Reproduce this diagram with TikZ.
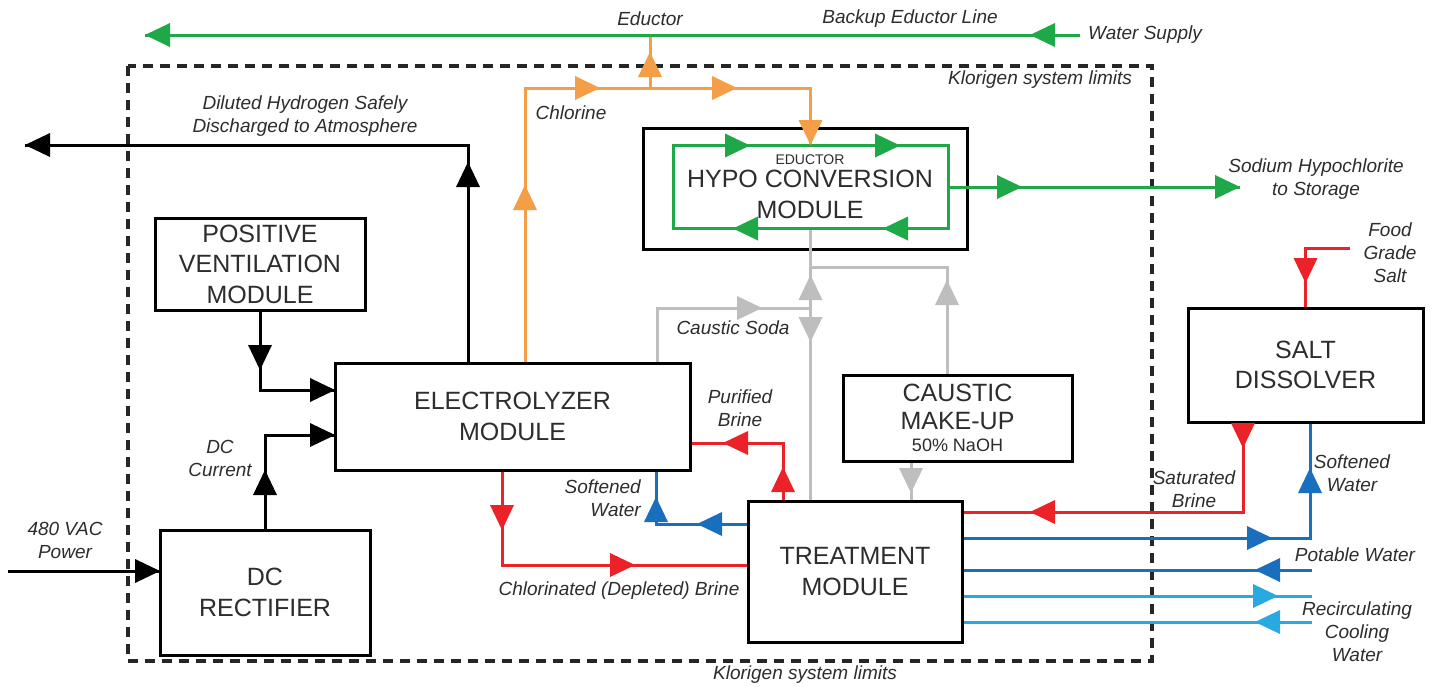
\documentclass[tikz,border=0pt]{standalone}
\usepackage{fontspec}
\setmainfont{Liberation Sans}
\usetikzlibrary{calc}
\definecolor{cgreen}{RGB}{30,168,72}
\definecolor{corange}{RGB}{245,158,72}
\definecolor{cred}{RGB}{235,35,40}
\definecolor{cblue}{RGB}{25,110,190}
\definecolor{clblue}{RGB}{40,170,225}
\definecolor{cgray}{RGB}{190,190,190}
\definecolor{ctext}{RGB}{45,45,45}
\begin{document}
\begin{tikzpicture}[x=1pt,y=1pt,
  box/.style={draw=black, line width=3pt, inner sep=0pt, align=center, font=\fontsize{25}{30.5}\selectfont, text=ctext},
  lab/.style={font=\itshape\fontsize{19}{23}\selectfont, text=ctext, inner sep=0pt, align=center},
  blk/.style={line width=3pt, draw=black},
  grn/.style={line width=3pt, draw=cgreen},
  org/.style={line width=3pt, draw=corange},
  rd/.style={line width=3pt, draw=cred},
  blu/.style={line width=3pt, draw=cblue},
  lblu/.style={line width=3pt, draw=clblue},
  gry/.style={line width=3pt, draw=cgray},
  limit/.style={line width=3.5pt, dash pattern=on 10pt off 7pt, draw=black!85},
  ah/.pic={\fill (0,0) -- (-25,12) -- (-25,-12) -- cycle;}
]
\useasboundingbox (0,0) rectangle (1432,-686);
\fill[white] (0,0) rectangle (1432,-686);

% system limits
\draw[limit] (128,-66) rectangle (1152,-661);

% boxes
\node[box, minimum width=210, minimum height=92] (pv) at (260,-264) {POSITIVE\\VENTILATION\\MODULE};
\node[box, minimum width=355, minimum height=107] (elec) at (512.5,-416.5) {ELECTROLYZER\\MODULE};
\node[box, minimum width=210, minimum height=125] (dcr) at (265,-592.5) {DC\\RECTIFIER};
\node[box, minimum width=324, minimum height=121] (hypo) at (805,-188.5) {};
\node[draw=cgreen, line width=3pt, inner sep=0pt, minimum width=275, minimum height=83] (loop) at (810.5,-187) {};
\node[inner sep=0pt, align=center, text=ctext, font=\fontsize{25}{31}\selectfont] (hypot) at (810,-187)
  {{\fontsize{14}{16}\selectfont EDUCTOR}\\[-8pt]HYPO CONVERSION\\MODULE};
\node[box, minimum width=229, minimum height=86] (caus) at (957.5,-418)
  {CAUSTIC\\[-3pt]MAKE-UP\\[-8pt]{\fontsize{18}{20}\selectfont 50\% NaOH}};
\node[box, minimum width=214, minimum height=141] (treat) at (855,-571.5) {TREATMENT\\MODULE};
\node[box, minimum width=235, minimum height=114] (salt) at (1305.5,-365) {SALT\\DISSOLVER};

% helper coordinates
\coordinate (h2) at (25,-145);
\coordinate (xh) at (468,0);
\coordinate (xcl) at (525,0);
\coordinate (yo) at (0,-88);
\coordinate (edj) at (650,-88);
\coordinate (edt) at (650,-35);
\coordinate (ws) at (1080,-35);
\coordinate (gl) at (145,-35);
\coordinate (sodium) at (1240,-187);
\coordinate (gj) at (810.5,-267);
\coordinate (xc3) at (947,0);
\coordinate (xcs) at (657,0);
\coordinate (csj) at (810.5,-308);
\coordinate (xcd) at (911,0);
\coordinate (pb) at (783,-443);
\coordinate (sw) at (656,-524);
\coordinate (cb) at (502,-565);
\coordinate (sb) at (1243,-512);
\coordinate (sw2) at (1310,-538);
\coordinate (pw) at (1312,-570);
\coordinate (rc1) at (1312,-596);
\coordinate (rc2) at (1312,-622);
\coordinate (fs) at (1350,-248);
\coordinate (pvj) at (0,-390);
\coordinate (dcj) at (0,-435);
\coordinate (acin) at (8,-571);

% connectors
\draw[blk] (elec.north -| xh) |- (h2);
\draw[org] (elec.north -| xcl) |- (loop.north |- yo) -- (loop.north);
\draw[org] (edj) -- (edt);
\draw[grn] (ws) -- (gl);
\draw[grn] (loop.east) -- (sodium);
\draw[gry] (loop.south) -- (treat.north -| loop.south);
\draw[gry] (gj) -| (caus.north -| xc3);
\draw[gry] (elec.north -| xcs) |- (csj);
\draw[gry] (caus.south -| xcd) -- (treat.north -| xcd);
\draw[rd] (treat.north -| pb) |- (elec.east |- pb);
\draw[blu] (treat.west |- sw) -| (elec.south -| sw);
\draw[rd] (elec.south -| cb) |- (treat.west |- cb);
\draw[rd] (salt.south -| sb) |- (treat.east |- sb);
\draw[blu] (treat.east |- sw2) -| (salt.south -| sw2);
\draw[blu] (pw) -- (treat.east |- pw);
\draw[lblu] (treat.east |- rc1) -- (rc1);
\draw[lblu] (rc2) -- (treat.east |- rc2);
\draw[rd] (fs) -| (salt.north);
\draw[blk] (pv.south) |- (elec.west |- pvj);
\draw[blk] (dcr.north) |- (elec.west |- dcj);
\draw[blk] (acin) -- (dcr.west |- acin);

% arrowheads
\pic[black, rotate=90] at (468,-162) {ah};
\pic[black, rotate=180] at (25,-145) {ah};
\pic[black, rotate=-90] at (260,-370) {ah};
\pic[black] at (335,-390) {ah};
\pic[black] at (335,-435) {ah};
\pic[black, rotate=90] at (265,-470) {ah};
\pic[black] at (160,-571) {ah};

\pic[corange, rotate=90] at (525,-185) {ah};
\pic[corange, rotate=90] at (650,-52) {ah};
\pic[corange] at (600,-88) {ah};
\pic[corange] at (737,-88) {ah};
\pic[corange, rotate=-90] at (810.5,-145) {ah};

\pic[cgreen, rotate=180] at (145,-35) {ah};
\pic[cgreen, rotate=180] at (1030,-35) {ah};
\pic[cgreen] at (750,-145.5) {ah};
\pic[cgreen] at (900,-145.5) {ah};
\pic[cgreen, rotate=180] at (733,-228.5) {ah};
\pic[cgreen, rotate=180] at (883,-228.5) {ah};
\pic[cgreen] at (1022,-187) {ah};
\pic[cgreen] at (1240,-187) {ah};

\pic[cgray, rotate=90] at (947,-280) {ah};
\pic[cgray, rotate=90] at (810.5,-275) {ah};
\pic[cgray, rotate=-90] at (810.5,-342) {ah};
\pic[cgray] at (762,-308) {ah};
\pic[cgray, rotate=-90] at (911,-493) {ah};

\pic[cred, rotate=90] at (783,-467) {ah};
\pic[cred, rotate=180] at (723,-443) {ah};
\pic[cred, rotate=-90] at (502,-530) {ah};
\pic[cred] at (635,-565) {ah};
\pic[cred, rotate=-90] at (1243,-448) {ah};
\pic[cred, rotate=180] at (1030,-512) {ah};
\pic[cred, rotate=-90] at (1305.5,-283) {ah};

\pic[cblue, rotate=90] at (656,-497) {ah};
\pic[cblue, rotate=180] at (697,-524) {ah};
\pic[cblue] at (1272,-538) {ah};
\pic[cblue, rotate=90] at (1310,-468) {ah};
\pic[cblue, rotate=180] at (1255,-570) {ah};

\pic[clblue] at (1278,-596) {ah};
\pic[clblue, rotate=180] at (1255,-622) {ah};

% labels
\node[lab] (l1) at (650,-19) {Eductor};
\node[lab] (l2) at (910,-19) {Backup Eductor Line};
\node[lab, anchor=west] (l3) at (1088,-35) {Water Supply};
\node[lab] (l4) at (1040,-80) {Klorigen system limits};
\node[lab] (l5) at (805,-675) {Klorigen system limits};
\node[lab] (l6) at (305,-116) {Diluted Hydrogen Safely\\Discharged to Atmosphere};
\node[lab] (l7) at (571,-113) {Chlorine};
\node[lab] (l8) at (1316,-179) {Sodium Hypochlorite\\to Storage};
\node[lab] (l9) at (1390,-253) {Food\\Grade\\Salt};
\node[lab] (l10) at (733,-328) {Caustic Soda};
\node[lab] (l11) at (740,-408) {Purified\\Brine};
\node[lab] (l12) at (220,-458) {DC\\Current};
\node[lab] (l13) at (65,-540) {480 VAC\\Power};
\node[lab, align=right, anchor=east] (l14) at (641,-498) {Softened\\Water};
\node[lab] (l15) at (619,-591) {Chlorinated (Depleted) Brine};
\node[lab] (l16) at (1194,-489) {Saturated\\Brine};
\node[lab] (l17) at (1352,-473) {Softened\\Water};
\node[lab] (l18) at (1355,-555) {Potable Water};
\node[lab] (l19) at (1357,-632) {Recirculating\\Cooling\\Water};
\end{tikzpicture}
\end{document}
